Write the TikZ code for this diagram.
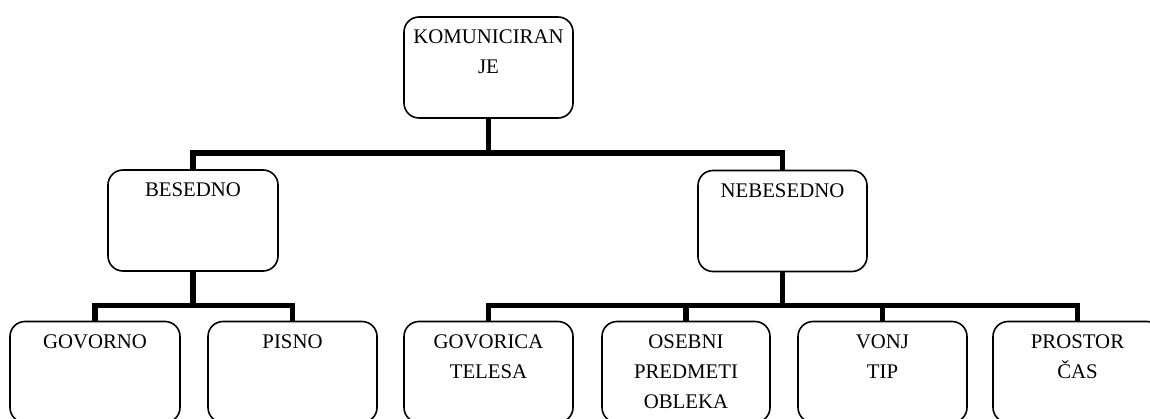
\documentclass[tikz,border=0pt]{standalone}
\usepackage{fontspec}
\setmainfont{Liberation Serif}
\usetikzlibrary{calc}
\begin{document}
\begin{tikzpicture}[x=1pt,y=-1pt,
  box/.style={draw=black, line width=1.6pt, rounded corners=15pt, minimum height=101pt, inner sep=0pt, outer sep=0pt},
  txt/.style={font=\fontsize{20.8}{30}\selectfont, align=center, anchor=north, inner sep=0pt, yshift=-12.7pt},
  conn/.style={line width=5.5pt, line join=miter, line cap=butt}]
\path[use as bounding box, clip] (0,0) rectangle (1150,419);
% boxes
\node[box, minimum width=169pt] (kom) at (488.5,67.5) {};
\node[box, minimum width=170pt] (bes) at (193,220.5) {};
\node[box, minimum width=169pt] (neb) at (782.5,221) {};
\node[box, minimum width=170pt] (gov) at (95,372) {};
\node[box, minimum width=169pt] (pis) at (292.5,372) {};
\node[box, minimum width=169pt] (gte) at (488.5,372) {};
\node[box, minimum width=168pt] (ose) at (686,372) {};
\node[box, minimum width=169pt] (von) at (882.5,372) {};
\node[box, minimum width=169pt] (pro) at (1077.5,372) {};
% texts
\node[txt] (tkom) at (kom.north) {KOMUNICIRAN\\JE};
\node[txt] (tbes) at (bes.north) {BESEDNO};
\node[txt] (tneb) at (neb.north) {NEBESEDNO};
\node[txt] (tgov) at (gov.north) {GOVORNO};
\node[txt] (tpis) at (pis.north) {PISNO};
\node[txt] (tgte) at (gte.north) {GOVORICA\\TELESA};
\node[txt] (tose) at (ose.north) {OSEBNI\\PREDMETI\\OBLEKA};
\node[txt] (tvon) at (von.north) {VONJ\\TIP};
\node[txt] (tpro) at (pro.north) {PROSTOR\\ČAS};
% bus levels
\coordinate (y1) at (0,153);
\coordinate (y2) at (0,305.5);
% connectors
\draw[conn] (kom.south) -- (kom.south |- y1);
\draw[conn] (bes.north) -- (bes.north |- y1) -- (neb.north |- y1) -- (neb.north);
\draw[conn] (bes.south) -- (bes.south |- y2);
\draw[conn] (gov.north) -- (gov.north |- y2) -- (pis.north |- y2) -- (pis.north);
\draw[conn] (neb.south) -- (neb.south |- y2);
\draw[conn] (gte.north) -- (gte.north |- y2) -- (pro.north |- y2) -- (pro.north);
\draw[conn] (ose.north) -- (ose.north |- y2);
\draw[conn] (von.north) -- (von.north |- y2);
\end{tikzpicture}
\end{document}
